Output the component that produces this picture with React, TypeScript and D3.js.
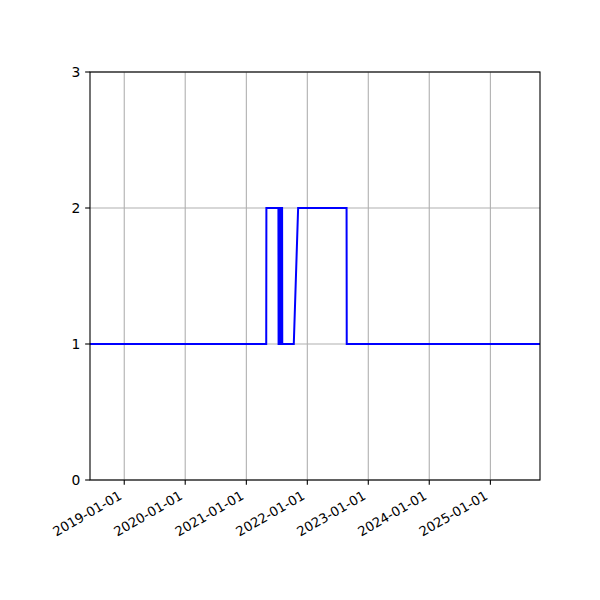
import { useEffect, useRef } from 'react';
import * as d3 from 'd3';

// sampled dates and the value at each one
const dates = [
  '2018-06-10',
  '2021-04-30', '2021-05-01',
  '2021-07-12', '2021-07-13',
  '2021-07-16', '2021-07-17',
  '2021-07-19', '2021-07-20',
  '2021-07-22', '2021-07-23',
  '2021-07-26', '2021-07-27',
  '2021-07-30', '2021-07-31',
  '2021-08-03', '2021-08-04',
  '2021-10-12', '2021-11-07',
  '2022-08-24', '2022-08-25',
  '2025-10-25',
];
const values = [
  1,
  1, 2,
  2, 1,
  1, 2,
  2, 1,
  1, 2,
  2, 1,
  1, 2,
  2, 1,
  1, 2,
  2, 1,
  1,
];
const xTicks = ['2019-01-01', '2020-01-01', '2021-01-01', '2022-01-01', '2023-01-01', '2024-01-01', '2025-01-01'];
const yTicks = [0, 1, 2, 3];

export default function App() {
  const ref = useRef<SVGSVGElement>(null);

  useEffect(() => {
    const svg = d3.select(ref.current);
    svg.selectAll('*').remove();

    const left = 90;
    const right = 540;
    const top = 72;
    const bottom = 480;
    const fontSize = 13.89;
    const xFontSize = 13.2;
    const tickLen = 4.86;
    const pad = 4.86;
    const parse = d3.utcParse('%Y-%m-%d');

    const data = dates.map((d, i) => ({ date: parse(d)!, value: values[i] }));

    const x = d3
      .scaleUtc()
      .domain(d3.extent(data, d => d.date) as [Date, Date])
      .range([left, right]);
    const y = d3.scaleLinear().domain([0, 3]).range([bottom, top]);

    const tickDates = xTicks.map(t => parse(t)!);

    // grid
    const grid = svg.append('g');
    grid
      .selectAll('line.gx')
      .data(tickDates)
      .enter()
      .append('line')
      .attr('x1', d => x(d))
      .attr('x2', d => x(d))
      .attr('y1', top)
      .attr('y2', bottom)
      .attr('stroke', '#b0b0b0')
      .attr('stroke-width', 1.1);
    grid
      .selectAll('line.gy')
      .data(yTicks)
      .enter()
      .append('line')
      .attr('x1', left)
      .attr('x2', right)
      .attr('y1', d => y(d))
      .attr('y2', d => y(d))
      .attr('stroke', '#b0b0b0')
      .attr('stroke-width', 1.1);

    // the line
    const line = d3
      .line<{ date: Date; value: number }>()
      .x(d => x(d.date))
      .y(d => y(d.value));
    svg
      .append('path')
      .datum(data)
      .attr('d', line)
      .attr('fill', 'none')
      .attr('stroke', '#0000ff')
      .attr('stroke-width', 2)
      .attr('stroke-linejoin', 'miter');

    // spines
    svg
      .append('rect')
      .attr('x', left)
      .attr('y', top)
      .attr('width', right - left)
      .attr('height', bottom - top)
      .attr('fill', 'none')
      .attr('stroke', 'black')
      .attr('stroke-width', 1.1);

    // x ticks
    const xt = svg
      .selectAll('g.xt')
      .data(tickDates)
      .enter()
      .append('g')
      .attr('transform', d => `translate(${x(d)},${bottom})`);
    xt.append('line')
      .attr('y2', tickLen)
      .attr('stroke', 'black')
      .attr('stroke-width', 1.1);
    const asc = xFontSize * 0.76;
    const desc = xFontSize * 0.24;
    xt.append('text')
      .attr(
        'transform',
        `translate(${-0.5 * desc},${tickLen + pad + 0.866 * asc}) rotate(-30)`
      )
      .attr('text-anchor', 'end')
      .style('font-family', 'DejaVu Sans')
      .style('font-size', `${xFontSize}px`)
      .attr('fill', 'black')
      .text((d, i) => xTicks[i]);

    // y ticks
    const yt = svg
      .selectAll('g.yt')
      .data(yTicks)
      .enter()
      .append('g')
      .attr('transform', d => `translate(${left},${y(d)})`);
    yt.append('line')
      .attr('x2', -tickLen)
      .attr('stroke', 'black')
      .attr('stroke-width', 1.1);
    yt.append('text')
      .attr('x', -tickLen - pad)
      .attr('dy', '0.36em')
      .attr('text-anchor', 'end')
      .style('font-family', 'DejaVu Sans')
      .style('font-size', `${fontSize}px`)
      .attr('fill', 'black')
      .text(d => d);
  }, []);

  return (
    <svg
      ref={ref}
      width={600}
      height={600}
      style={{ position: 'absolute', left: 0, top: 0, background: 'white' }}
    />
  );
}
